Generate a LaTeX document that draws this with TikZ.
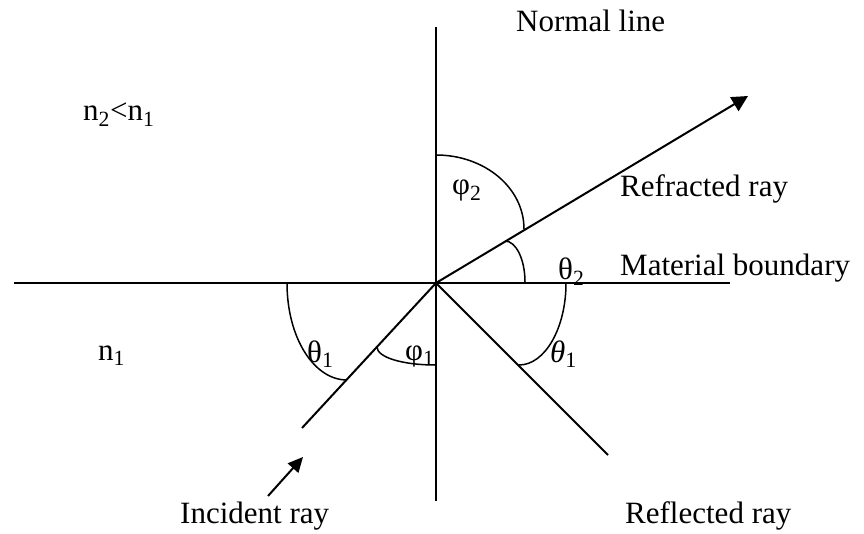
\documentclass[tikz,border=0pt]{standalone}
\usepackage{fontspec}
\setmainfont{Liberation Serif}
\usetikzlibrary{arrows.meta}
\newcommand{\lowsub}[1]{\raisebox{-5pt}{\fontsize{22}{22}\selectfont #1}}
\begin{document}
\begin{tikzpicture}[x=1pt,y=-1pt,
  lbl/.style={inner sep=0pt, anchor=base west, font=\fontsize{31}{31}\selectfont},
  ln/.style={line width=2pt},
  arcl/.style={line width=1.5pt},
  trihead/.style={-{Triangle[length=16pt,width=16pt]}},
  smallhead/.style={-{Triangle[length=15pt,width=14pt]}}]
\useasboundingbox (0,0) rectangle (864,534);
% geometry
\coordinate (O) at (436,283);
\coordinate (hL) at (14,283);
\coordinate (hR) at (730,283);
\coordinate (vT) at (436,27);
\coordinate (vB) at (436,501);
\coordinate (inc) at (302,428);
\coordinate (refl) at (608,455);
\coordinate (refr) at (748,96);
\coordinate (aS) at (268,496);
\coordinate (aT) at (303,457);
\draw[ln] (hL) -- (hR);
\draw[ln] (vT) -- (vB);
\draw[ln] (O) -- (inc);
\draw[ln] (O) -- (refl);
\draw[ln,trihead] (O) -- (refr);
\draw[ln,smallhead] (aS) -- (aT);
% angle arcs
\draw[arcl] (436,155) .. controls (484.6,155) and (524,187.7) .. (524,229);
\draw[arcl] (505,241) .. controls (516,241) and (525,259.4) .. (525,282);
\draw[arcl] (519,365) .. controls (545,365) and (566,328) .. (566,283);
\draw[arcl] (287,283) .. controls (287,337.6) and (313.9,380) .. (347,380);
\draw[arcl] (377,347) .. controls (377,357.4) and (403,365) .. (435,365);
% labels
\node[lbl] (tnormal) at (516,32) {Normal line};
\node[lbl] (tn21) at (83,121) {n\textsubscript{2}<n\textsubscript{1}};
\node[lbl] (tn1) at (98,360) {n\textsubscript{1}};
\node[lbl] (tphi2) at (452,195) {φ\textsubscript{2}};
\node[lbl] (trefr) at (620,197) {Refracted ray};
\node[lbl] (tth2) at (558,280) {θ\textsubscript{2}};
\node[lbl] (tmat) at (620,276) {Material boundary};
\node[lbl] (tth1l) at (307,362) {θ\lowsub{1}};
\node[lbl] (tphi1) at (405,360) {φ\textsubscript{1}};
\node[lbl] (tth1r) at (550,362) {\textit{θ}\lowsub{1}};
\node[lbl] (tinc) at (180,523) {Incident ray};
\node[lbl] (trefl) at (625,523) {Reflected ray};
\end{tikzpicture}
\end{document}
